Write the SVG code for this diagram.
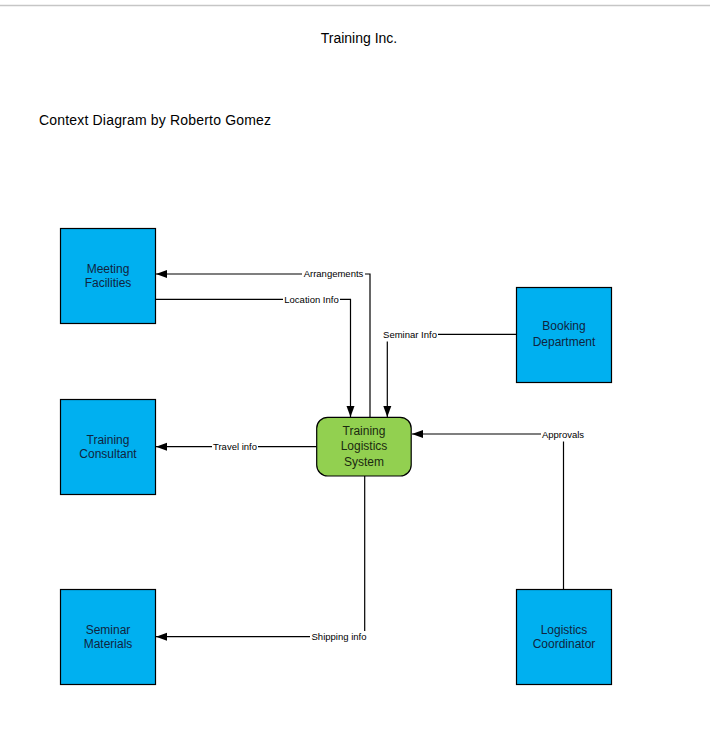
<svg xmlns="http://www.w3.org/2000/svg" width="710" height="743" viewBox="0 0 710 743">
<style>
  .ext rect { fill: #00b0f0; stroke: #000; stroke-width: 1.2; }
  .ext text { font-family: "Liberation Sans", Arial, sans-serif; font-size: 12px; fill: #10243e; text-anchor: middle; }
  .proc rect { fill: #92d050; stroke: #000; stroke-width: 1.2; }
  .proc text { font-family: "Liberation Sans", Arial, sans-serif; font-size: 12px; fill: #1b2a10; text-anchor: middle; }
  .flow path { fill: none; stroke: #000; stroke-width: 1.2; }
  .lbl rect { fill: #fff; }
  .lbl text { font-family: "Liberation Sans", Arial, sans-serif; font-size: 9.5px; fill: #000; text-anchor: middle; }
  .title { font-family: "Liberation Sans", Arial, sans-serif; font-size: 14px; fill: #000; }
</style>
<defs>
  <marker id="arr" markerUnits="userSpaceOnUse" markerWidth="12" markerHeight="10" refX="11" refY="5" orient="auto">
    <path d="M0,1 L11,5 L0,9 Z" fill="#000"/>
  </marker>
</defs>
<rect x="0" y="0" width="710" height="743" fill="#fff"/>
<line x1="0" y1="5.5" x2="710" y2="5.5" stroke="#c6c6c6" stroke-width="1.5"/>
<text class="title" x="359" y="43" text-anchor="middle">Training Inc.</text>
<text class="title" x="39" y="125" textLength="232" lengthAdjust="spacing">Context Diagram by Roberto Gomez</text>

<g id="connectors" class="flow">
  <path id="c-arrangements" d="M370,417 V274 H156" marker-end="url(#arr)"/>
  <path id="c-location" d="M156,299.3 H350.5 V417" marker-end="url(#arr)"/>
  <path id="c-seminar-info" d="M516.5,334.3 H387.3 V417" marker-end="url(#arr)"/>
  <path id="c-approvals" d="M563.5,589 V434 H412" marker-end="url(#arr)"/>
  <path id="c-travel" d="M316.7,446.7 H156" marker-end="url(#arr)"/>
  <path id="c-shipping" d="M364.7,476 V636.7 H156" marker-end="url(#arr)"/>
</g>
<g id="labels" class="lbl">
  <rect x="302" y="268" width="63" height="12"/><text x="333.5" y="277.3">Arrangements</text>
  <rect x="283" y="293.5" width="57" height="12"/><text x="311.5" y="302.6">Location Info</text>
  <rect x="382" y="328.5" width="56" height="13"/><text x="410" y="337.6">Seminar Info</text>
  <rect x="541" y="428.5" width="44" height="13"/><text x="563" y="438">Approvals</text>
  <rect x="212" y="441" width="46" height="12"/><text x="235" y="450">Travel info</text>
  <rect x="310" y="631" width="58" height="13"/><text x="339" y="640">Shipping info</text>
</g>

<g id="meeting-facilities" class="ext">
  <rect x="60.5" y="228.5" width="95" height="95"/>
  <text x="108" y="272.5">Meeting</text>
  <text x="108" y="287">Facilities</text>
</g>
<g id="training-consultant" class="ext">
  <rect x="60.5" y="399.5" width="95" height="95"/>
  <text x="108" y="443.5">Training</text>
  <text x="108" y="457.5">Consultant</text>
</g>
<g id="seminar-materials" class="ext">
  <rect x="60.5" y="589.5" width="95" height="95"/>
  <text x="108" y="633.5">Seminar</text>
  <text x="108" y="647.5">Materials</text>
</g>
<g id="booking-department" class="ext">
  <rect x="516.5" y="287.5" width="95" height="95"/>
  <text x="564" y="330.2">Booking</text>
  <text x="564" y="346">Department</text>
</g>
<g id="logistics-coordinator" class="ext">
  <rect x="516.5" y="589.5" width="95" height="95"/>
  <text x="564" y="633.5">Logistics</text>
  <text x="564" y="647.5">Coordinator</text>
</g>
<g id="training-logistics-system" class="proc">
  <rect x="316.7" y="417.3" width="94.5" height="58.7" rx="11" ry="11"/>
  <text x="364" y="435.2">Training</text>
  <text x="364" y="450.2">Logistics</text>
  <text x="364" y="466.2">System</text>
</g>
</svg>
